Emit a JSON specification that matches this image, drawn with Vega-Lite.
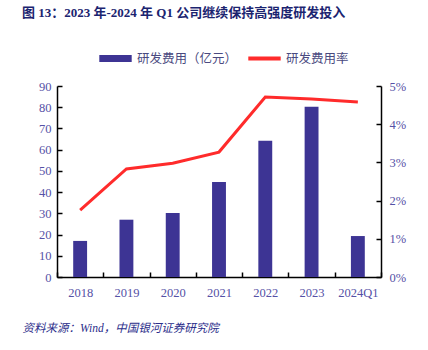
{
  "$schema": "https://vega.github.io/schema/vega-lite/v6.json",
  "autosize": "none",
  "width": 324,
  "height": 191,
  "padding": {"left": 57, "top": 86, "right": 47, "bottom": 73},
  "background": "white",
  "title": {
    "text": "图 13：2023 年-2024 年 Q1 公司继续保持高强度研发投入",
    "anchor": "start",
    "frame": "group",
    "dx": -35,
    "font": "Liberation Serif, Noto Sans CJK SC",
    "fontSize": 13,
    "fontWeight": "bold",
    "color": "#1b2470",
    "offset": 22
  },
  "config": {
    "view": {"stroke": null},
    "axis": {
      "labelFont": "Liberation Serif",
      "labelFontSize": 12.5,
      "labelColor": "#5551a6",
      "domainColor": "#000000",
      "domainWidth": 1.5,
      "tickColor": "#000000",
      "tickWidth": 1.5,
      "grid": false
    }
  },
  "data": {
    "values": [
      {"year": "2018", "rd": 17.0, "rate": 0.0175, "s1": "研发费用（亿元）", "s2": "研发费用率"},
      {"year": "2019", "rd": 27.0, "rate": 0.0283, "s1": "研发费用（亿元）", "s2": "研发费用率"},
      {"year": "2020", "rd": 30.2, "rate": 0.0298, "s1": "研发费用（亿元）", "s2": "研发费用率"},
      {"year": "2021", "rd": 44.8, "rate": 0.0327, "s1": "研发费用（亿元）", "s2": "研发费用率"},
      {"year": "2022", "rd": 64.2, "rate": 0.0471, "s1": "研发费用（亿元）", "s2": "研发费用率"},
      {"year": "2023", "rd": 80.2, "rate": 0.0466, "s1": "研发费用（亿元）", "s2": "研发费用率"},
      {"year": "2024Q1", "rd": 19.3, "rate": 0.0458, "s1": "研发费用（亿元）", "s2": "研发费用率"}
    ]
  },
  "encoding": {
    "x": {
      "field": "year",
      "type": "ordinal",
      "sort": null,
      "scale": {"paddingInner": 0, "paddingOuter": 0},
      "axis": {
        "title": "资料来源：Wind，中国银河证券研究院",
        "titleFont": "Liberation Serif, Noto Sans CJK SC",
        "titleFontSize": 11.5,
        "titleFontStyle": "italic",
        "titleFontWeight": "normal",
        "titleColor": "#2b2d8a",
        "titleAnchor": "start",
        "titleAlign": "left",
        "titleX": -35,
        "titleY": 45,
        "labelAngle": 0,
        "tickBand": "extent",
        "tickSize": -5,
        "labelPadding": 14
      }
    }
  },
  "layer": [
    {
      "mark": {"type": "bar", "width": {"band": 0.3}, "color": "#3d3494"},
      "encoding": {
        "y": {
          "field": "rd",
          "type": "quantitative",
          "scale": {"domain": [0, 90], "nice": false},
          "axis": {"title": null, "values": [0,10,20,30,40,50,60,70,80,90], "tickSize": -5, "labelPadding": 11}
        },
        "color": {
          "field": "s1",
          "type": "nominal",
          "scale": {"domain": ["研发费用（亿元）", "研发费用率"], "range": ["#3d3494", "#ff2b2b"]},
          "legend": {
            "orient": "none",
            "direction": "horizontal",
            "legendX": 42,
            "legendY": -44,
            "title": null,
            "labelFont": "Noto Sans CJK SC",
            "labelFontSize": 12.5,
            "labelColor": "#4a4a80",
            "symbolSize": 1050,
            "symbolType": "M-1,-0.2H1V0.2H-1Z",
            "labelOffset": 5,
            "columnPadding": 10,
            "encode": {
              "symbols": {
                "update": {
                  "shape": {"signal": "datum.value === '研发费用率' ? 'M-1,-0.12H1V0.12H-1Z' : 'M-1,-0.21H1V0.21H-1Z'"},
                  "fill": {"signal": "datum.value === '研发费用率' ? '#ff2b2b' : '#3d3494'"},
                  "fillOpacity": {"value": 1},
                  "strokeWidth": {"value": 0}
                }
              }
            }
          }
        }
      }
    },
    {
      "mark": {"type": "line", "color": "#ff2b2b", "strokeWidth": 3},
      "encoding": {
        "y": {
          "field": "rate",
          "type": "quantitative",
          "scale": {"domain": [0, 0.05], "nice": false},
          "axis": {"title": null, "orient": "right", "format": ".0%", "values": [0,0.01,0.02,0.03,0.04,0.05], "tickSize": -5, "labelPadding": 13}
        }
      }
    }
  ],
  "resolve": {"scale": {"y": "independent"}}
}
